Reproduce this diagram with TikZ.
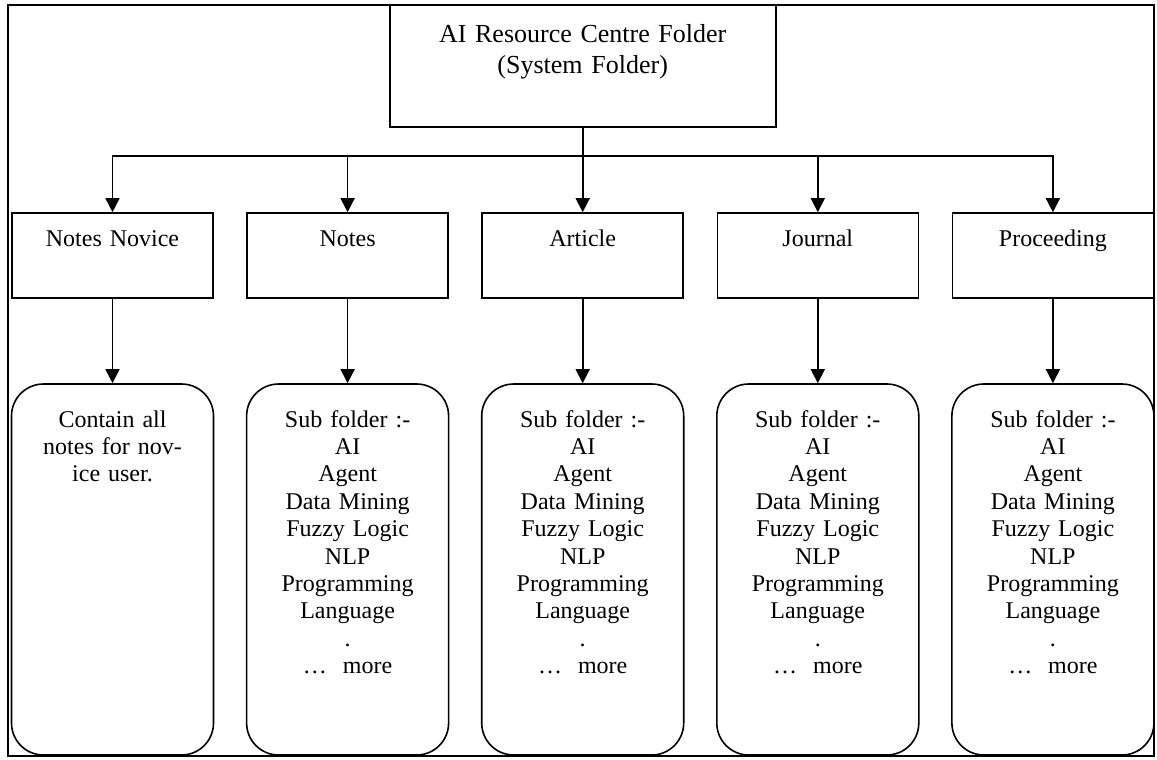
\documentclass[tikz,border=0pt]{standalone}
\usepackage{fontspec}
\setmainfont{Liberation Serif}
\usetikzlibrary{positioning,arrows.meta}

\newcommand{\subfolders}{Sub folder :-\\AI\\Agent\\Data Mining\\Fuzzy Logic\\NLP\\Programming\\Language\\.\\\dots\ \ more}

\begin{document}
\begin{tikzpicture}[
		% system folder on top
		rootnode/.style={rectangle, draw=black, line width=0.8pt, inner sep=0pt, text width=193pt, align=center, text height=18.5pt, text depth=42.5pt, font=\fontsize{13pt}{15.5pt}\selectfont},
		% one box per folder
		folderbox/.style={rectangle, draw=black, line width=0.8pt, inner sep=0pt, text width=100.5pt, align=center, text height=16.5pt, text depth=26pt, font=\fontsize{12pt}{14pt}\selectfont},
		% rounded box with the sub folders
		subbox/.style={rectangle, draw=black, line width=0.8pt, rounded corners=16pt, inner sep=0pt, text width=101pt, align=center, text height=21.5pt, text depth=164pt, font=\fontsize{12pt}{13.7pt}\selectfont},
		link/.style={-{Triangle[width=7pt,length=7pt]}, line width=0.8pt},
		point/.style={coordinate}
	]
	\useasboundingbox (0,0) rectangle (578.5pt,-380pt);
	\draw[line width=0.8pt] (4pt,-2.5pt) rectangle (577pt,-378pt);

	%Nodes
	\node[folderbox]    (novice)                                                at (56.25pt,-127.75pt) {Notes Novice};
	\node[folderbox]    (notes)         [right of=novice, node distance=117.55pt]                  {Notes};
	\node[folderbox]    (article)       [right of=notes, node distance=117.55pt]                   {Article};
	\node[folderbox]    (journal)       [right of=article, node distance=117.55pt]                 {Journal};
	\node[folderbox]    (proceeding)    [right of=journal, node distance=117.55pt]                 {Proceeding};
	\node[rootnode]     (root)          [above of=article, node distance=94.75pt]                  {AI Resource Centre Folder\\(System Folder)};

	\node[subbox]       (novicesub)     [below of=novice, node distance=157pt]                     {Contain all\\notes for nov-\\ice user.};
	\node[subbox]       (notessub)      [below of=notes, node distance=157pt]                      {\subfolders};
	\node[subbox]       (articlesub)    [below of=article, node distance=157pt]                    {\subfolders};
	\node[subbox]       (journalsub)    [below of=journal, node distance=157pt]                    {\subfolders};
	\node[subbox]       (proceedingsub) [below of=proceeding, node distance=157pt]                 {\subfolders};

	% branch point of the horizontal line
	\node[point]        (bus)           [below of=root, node distance=45pt]                        {bus};

	%Lines
	\draw[link] (root.south)    --      (article.north);
	\draw[link] (bus)           -|      (novice.north);
	\draw[link] (bus)           -|      (notes.north);
	\draw[link] (bus)           -|      (journal.north);
	\draw[link] (bus)           -|      (proceeding.north);

	\draw[link] (novice)        --      (novicesub);
	\draw[link] (notes)         --      (notessub);
	\draw[link] (article)       --      (articlesub);
	\draw[link] (journal)       --      (journalsub);
	\draw[link] (proceeding)    --      (proceedingsub);
\end{tikzpicture}
\end{document}
